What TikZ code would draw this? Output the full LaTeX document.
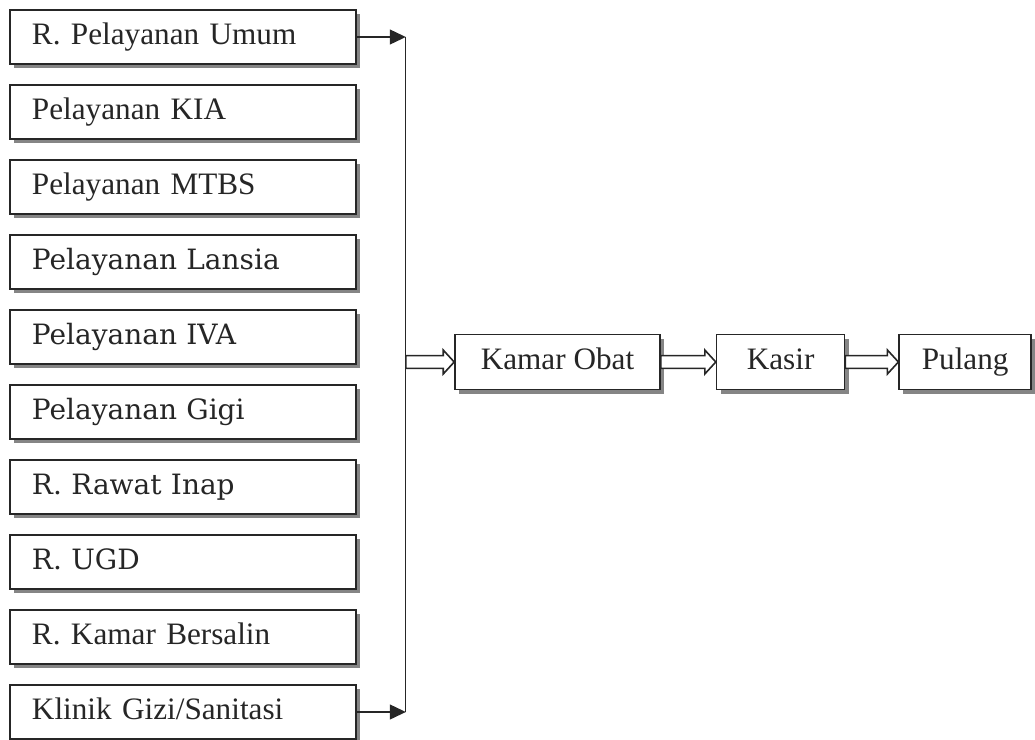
\documentclass[tikz,border=0pt]{standalone}
\usepackage{fontspec}
\setmainfont{Liberation Serif}
\newfontfamily\bookfont{DejaVu Serif}
\usetikzlibrary{arrows.meta,positioning,shadows,calc}

% open double arrow from a point (or anchor) to the west side of a node
\newcommand{\hollowarrow}[2]{%
  \draw[hollow] let \p1=(#1), \p2=(#2.west) in
    (\x1,\y2+3.2pt) -- (\x2-5.5pt,\y2+3.2pt) -- (\x2-5.5pt,\y2+6pt) -- (\p2)
    -- (\x2-5.5pt,\y2-6pt) -- (\x2-5.5pt,\y2-3.2pt) -- (\x1,\y2-3.2pt) -- cycle;}

\begin{document}
\begin{tikzpicture}[x=0.5pt,y=-0.5pt,>={Triangle[length=8pt,width=7.5pt]},node distance=9.7pt,semithick]
  \tikzstyle{room}=[draw=black!85,line width=0.8pt,fill=white,text=black!85,
    text height=11pt,text depth=3.5pt,
    drop shadow={shadow xshift=2pt,shadow yshift=-2pt,fill=black!60,opacity=0.8}]
  \tikzstyle{unit}=[room,minimum height=27pt,inner xsep=11pt,text width=151pt,align=left,
    font=\fontsize{15.6}{19}\selectfont]
  \tikzstyle{unitb}=[unit,font=\bookfont\fontsize{14}{17}\selectfont]
  \tikzstyle{stage}=[room,minimum height=27.5pt,align=center,font=\fontsize{15.6}{19}\selectfont]
  \tikzstyle{hollow}=[draw=black!85,line width=0.8pt,fill=white]

  \useasboundingbox (0,0) rectangle (1035,740);

  \node[unit]  (umum)   at (183,37)       {R. Pelayanan Umum};
  \node[unit]  (kia)    [below=of umum]   {Pelayanan KIA};
  \node[unit]  (mtbs)   [below=of kia]    {Pelayanan MTBS};
  \node[unitb] (lansia) [below=of mtbs]   {Pelayanan Lansia};
  \node[unitb] (iva)    [below=of lansia] {Pelayanan IVA};
  \node[unitb] (gigi)   [below=of iva]    {Pelayanan Gigi};
  \node[unitb] (inap)   [below=of gigi]   {R. Rawat Inap};
  \node[unitb] (ugd)    [below=of inap]   {R. UGD};
  \node[unit]  (salin)  [below=of ugd]    {R. Kamar Bersalin};
  \node[unit]  (gizi)   [below=of salin]  {Klinik Gizi/Sanitasi};

  \coordinate (bartop) at ($(umum.east)+(49,0)$);
  \coordinate (barbot) at (gizi.east -| bartop);
  \coordinate (merge)  at (bartop |- 0,363);
  \draw[black!85] (bartop) -- (barbot);
  \draw[->,black!85] (umum.east) -- (bartop);
  \draw[->,black!85] (gizi.east) -- (barbot);

  \node[stage,minimum width=102.5pt] (obat)   at (557.5,362)      {Kamar Obat};
  \node[stage,minimum width=64pt]    (kasir)  [right=27.5pt of obat]  {Kasir};
  \node[stage,minimum width=66pt]    (pulang) [right=26.5pt of kasir] {Pulang};

  \hollowarrow{merge}{obat}
  \hollowarrow{obat.east}{kasir}
  \hollowarrow{kasir.east}{pulang}
\end{tikzpicture}
\end{document}
